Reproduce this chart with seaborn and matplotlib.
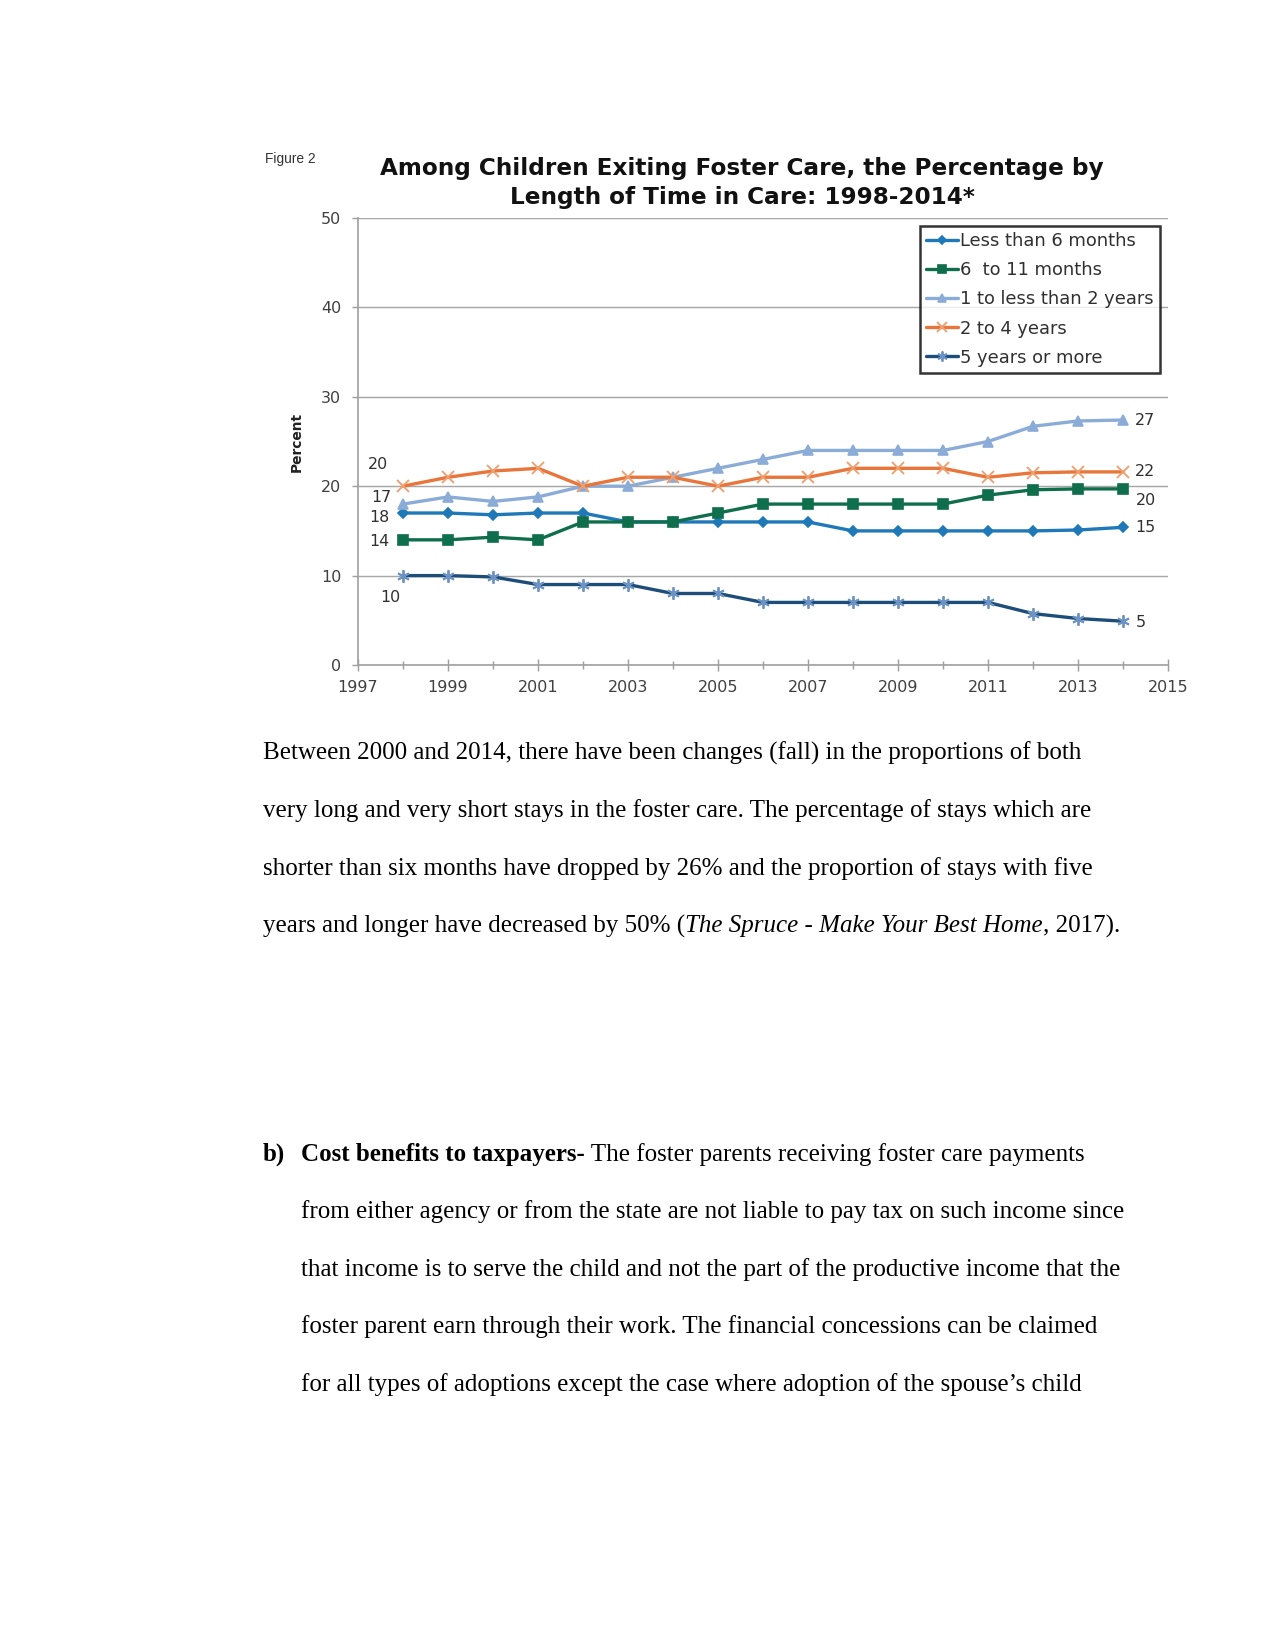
import matplotlib
matplotlib.use("Agg")
import matplotlib.pyplot as plt
import seaborn as sns
import numpy as np
from matplotlib.ticker import MultipleLocator

# ---------------- data ----------------
years = [1998, 1999, 2000, 2001, 2002, 2003, 2004, 2005, 2006, 2007, 2008,
         2009, 2010, 2011, 2012, 2013, 2014]
less_6_months = [17, 17, 16.8, 17, 17, 16, 16, 16, 16, 16, 15, 15, 15, 15, 15, 15.1, 15.4]
six_to_11_months = [14, 14, 14.3, 14, 16, 16, 16, 17, 18, 18, 18, 18, 18, 19, 19.6, 19.7, 19.7]
one_to_2_years = [18, 18.8, 18.3, 18.8, 20, 20, 21, 22, 23, 24, 24, 24, 24, 25, 26.7, 27.3, 27.4]
two_to_4_years = [20, 21, 21.7, 22, 20, 21, 21, 20, 21, 21, 22, 22, 22, 21, 21.5, 21.6, 21.6]
five_plus_years = [10, 10, 9.85, 9, 9, 9, 8, 8, 7, 7, 7, 7, 7, 7, 5.75, 5.2, 4.9]

series_names = ["Less than 6 months", "6  to 11 months", "1 to less than 2 years",
                "2 to 4 years", "5 years or more"]
series_values = [less_6_months, six_to_11_months, one_to_2_years,
                 two_to_4_years, five_plus_years]

left_labels = ["20", "17", "18", "14", "10"]
left_label_pos = [(1997.44, 22.4), (1997.53, 18.7), (1997.47, 16.5), (1997.47, 13.8), (1997.71, 7.6)]
right_labels = ["27", "22", "20", "15", "5"]
right_label_pos = [(2014.5, 27.4), (2014.5, 21.6), (2014.5, 18.4), (2014.5, 15.4), (2014.4, 4.8)]

title = "Among Children Exiting Foster Care, the Percentage by\nLength of Time in Care: 1998-2014*"

para1 = [
    "Between 2000 and 2014, there have been changes (fall) in the proportions of both",
    "very long and very short stays in the foster care. The percentage of stays which are",
    "shorter than six months have dropped by 26% and the proportion of stays with five",
]
para1_last = [("years and longer have decreased by 50% (", "normal", "normal"),
              ("The Spruce - Make Your Best Home", "italic", "normal"),
              (", 2017).", "normal", "normal")]
para2_first = [("b)", "normal", "bold")]
para2_first_rest = [("Cost benefits to taxpayers-", "normal", "bold"),
                    (" The foster parents receiving foster care payments", "normal", "normal")]
para2 = [
    "from either agency or from the state are not liable to pay tax on such income since",
    "that income is to serve the child and not the part of the productive income that the",
    "foster parent earn through their work. The financial concessions can be claimed",
    "for all types of adoptions except the case where adoption of the spouse\u2019s child",
]

# ---------------- style ----------------
sns.set_theme(style="white")
plt.rcParams["font.family"] = ["DejaVu Sans"]

W, H = 1275, 1650
fig = plt.figure(figsize=(8.5, 11), dpi=150)
fig.patch.set_facecolor("white")

def fx(px):
    return px / W

def fy(py):
    return 1 - py / H

ax_left, ax_right, ax_top, ax_bot = 358, 1168, 218, 665
ax = fig.add_axes([fx(ax_left), fy(ax_bot), fx(ax_right - ax_left), (ax_bot - ax_top) / H])
ax.set_facecolor("white")

colors = ["#1f78b8", "#0f6e4b", "#8cacd8", "#e8753a", "#1d4e7a"]
markers = ["D", "s", "^", "x", (6, 2, 0)]
msizes = [3.6, 5.2, 5.0, 6.2, 6.0]
mfc = ["#1f78b8", "#0f6e4b", "#8cacd8", "#f0a070", "#6d93c4"]
mew = [0.8, 0.8, 0.8, 0.9, 0.9]

for name, vals, c, m, ms, fc, w in zip(series_names, series_values, colors, markers, msizes, mfc, mew):
    sns.lineplot(x=years, y=vals, ax=ax, color=c, linewidth=1.6, marker=m,
                 markersize=ms, markerfacecolor=fc, markeredgecolor=fc,
                 markeredgewidth=w, label=name, zorder=3)

ax.set_xlim(1997, 2015)
ax.set_ylim(0, 50)
ax.xaxis.set_major_locator(MultipleLocator(2))
ax.xaxis.set_minor_locator(MultipleLocator(1))
ax.yaxis.set_major_locator(MultipleLocator(10))
ax.set_xticks(list(range(1997, 2016, 2)))
ax.set_xticklabels([str(y) for y in range(1997, 2016, 2)])
ax.grid(axis="y", color="#a8a8a8", linewidth=0.7)
ax.grid(axis="x", visible=False)
for s in ["top", "right"]:
    ax.spines[s].set_visible(False)
for s in ["left", "bottom"]:
    ax.spines[s].set_color("#a0a0a0")
    ax.spines[s].set_linewidth(0.8)
ax.tick_params(axis="x", which="major", direction="inout", length=6, width=0.7,
               color="#a0a0a0", labelsize=7.7, labelcolor="#404040", pad=4, bottom=True)
ax.tick_params(axis="x", which="minor", direction="inout", length=4, width=0.7,
               color="#a0a0a0", bottom=True)
ax.tick_params(axis="y", which="major", direction="out", length=3, width=0.7,
               color="#a0a0a0", labelsize=7.7, labelcolor="#404040", pad=5, left=True)
ax.set_xlabel("")
ax.set_ylabel("")

for lab, (x, y) in zip(left_labels, left_label_pos):
    ax.text(x, y, lab, fontsize=7.6, color="#303030", ha="center", va="center")
for lab, (x, y) in zip(right_labels, right_label_pos):
    ax.text(x, y, lab, fontsize=7.6, color="#303030", ha="center", va="center")

leg = ax.legend(loc="upper right", bbox_to_anchor=(fx(1160), fy(226)),
                bbox_transform=fig.transFigure, borderaxespad=0, frameon=True,
                fancybox=False, edgecolor="black", fontsize=8.6, handlelength=1.8,
                handletextpad=0.1, labelspacing=0.62, borderpad=0.35, markerscale=0.8)
leg.get_frame().set_linewidth(1.2)
for t in leg.get_texts():
    t.set_color("#303030")

# chart texts
fig.text(fx(265), fy(159), "Figure 2", fontsize=6.6, color="#333333",
         family=["Liberation Sans"], ha="left", va="center")
fig.text(fx(742), fy(183), title, fontsize=11.1, fontweight="bold", color="#111111",
         ha="center", va="center", linespacing=1.32)
fig.text(fx(297), fy(442), "Percent", fontsize=6.6, fontweight="bold", color="#222222",
         rotation=90, ha="center", va="center")

# ---------------- body text ----------------
serif = ["Liberation Serif", "DejaVu Serif"]
fs = 12
renderer = fig.canvas.get_renderer()

def draw_runs(x_px, base_px, runs):
    x = x_px
    for txt, style, weight in runs:
        t = fig.text(fx(x), fy(base_px), txt, fontsize=fs, family=serif, style=style,
                     fontweight=weight, color="black", ha="left", va="baseline")
        bb = t.get_window_extent(renderer=renderer)
        x += bb.width

step = 57.4
base1 = 760
for i, line in enumerate(para1):
    draw_runs(263, base1 + i * step, [(line, "normal", "normal")])
draw_runs(263, base1 + 3 * step, para1_last)

base2 = 1161
draw_runs(263, base2, para2_first)
draw_runs(301, base2, para2_first_rest)
for i, line in enumerate(para2):
    draw_runs(301, base2 + (i + 1) * step, [(line, "normal", "normal")])

fig.savefig("out.png", dpi=150, facecolor="white")
